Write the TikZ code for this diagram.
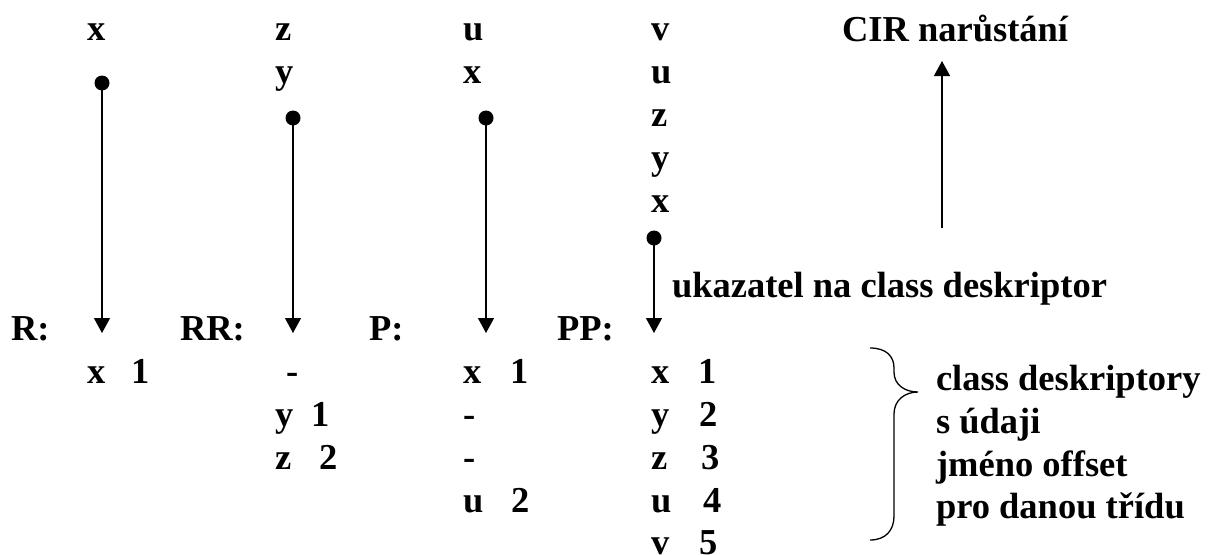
\documentclass[tikz,border=0pt]{standalone}
\usepackage{fontspec}
\setmainfont{Liberation Serif}
\usetikzlibrary{arrows.meta}
\begin{document}
\begin{tikzpicture}[x=1pt,y=-1pt,
  every node/.style={inner sep=0pt,outer sep=0pt,anchor=base west,font=\fontsize{36.5}{43}\selectfont\bfseries},
  dotnode/.style={circle,fill=black,minimum size=15pt,inner sep=0pt,anchor=center},
  ptr/.style={line width=1.2pt,-{Triangle[length=15pt,width=16pt]}},
  brace/.style={line width=1.3pt}]
\useasboundingbox (0,0) rectangle (1217,554);
% top stacks
\node (c1a) at (87,40) {x};
\node (c2a) at (275,40) {z};
\node (c2b) at (275,83) {y};
\node (c3a) at (463,40) {u};
\node (c3b) at (463,83) {x};
\node (c4a) at (651,40) {v};
\node (c4b) at (651,83) {u};
\node (c4c) at (651,126) {z};
\node (c4d) at (651,169) {y};
\node (c4e) at (651,212) {x};
% pointer dots and tips
\node[dotnode] (d1) at (102,83) {};
\node[dotnode] (d2) at (293,118) {};
\node[dotnode] (d3) at (486,118) {};
\node[dotnode] (d4) at (654,238) {};
\coordinate (t1) at (102,333);
\coordinate (t2) at (293,333);
\coordinate (t3) at (486,333);
\coordinate (t4) at (654,333);
\draw[ptr] (d1.center) -- (t1);
\draw[ptr] (d2.center) -- (t2);
\draw[ptr] (d3.center) -- (t3);
\draw[ptr] (d4.center) -- (t4);
% labels
\node (lR) at (11,340) {R:};
\node (lRR) at (180,340) {RR:};
\node (lP) at (369,340) {P:};
\node (lPP) at (557,340) {PP:};
\node (uk) at (672,297) {ukazatel na class deskriptor};
\node (cir) at (842,41) {CIR narůstání};
\coordinate (ub) at (942,228);
\coordinate (ut) at (942,61);
\draw[ptr] (ub) -- (ut);
% descriptors
\node (r1x) at (87,383) {x};
\node (r1n) at (131,383) {1};
\node (s1) at (286,383) {-};
\node (s2y) at (275,426) {y};
\node (s2n) at (311,426) {1};
\node (s3z) at (275,469) {z};
\node (s3n) at (319,469) {2};
\node (p1x) at (463,383) {x};
\node (p1n) at (510,383) {1};
\node (p2) at (463,426) {-};
\node (p3) at (463,469) {-};
\node (p4u) at (463,512) {u};
\node (p4n) at (511,512) {2};
\node (q1x) at (651,383) {x};
\node (q1n) at (698,383) {1};
\node (q2y) at (651,426) {y};
\node (q2n) at (699,426) {2};
\node (q3z) at (651,469) {z};
\node (q3n) at (701,469) {3};
\node (q4u) at (651,512) {u};
\node (q4n) at (703,512) {4};
\node (q5v) at (651,554) {v};
\node (q5n) at (699,554) {5};
% brace
\coordinate (bt) at (870,348);
\coordinate (bm) at (918,392);
\coordinate (bb) at (870,540);
\draw[brace] (bt) .. controls (886,348) and (894,356) .. (894,368)
  -- (894,372) .. controls (894,385) and (905,392) .. (bm)
  .. controls (905,392) and (894,400) .. (894,414)
  -- (894,516) .. controls (894,530) and (886,540) .. (bb);
\node (e1) at (936,390) {class deskriptory};
\node (e2) at (936,433) {s údaji};
\node (e3) at (936,476) {jméno offset};
\node (e4) at (936,518) {pro danou třídu};
\end{tikzpicture}
\end{document}
